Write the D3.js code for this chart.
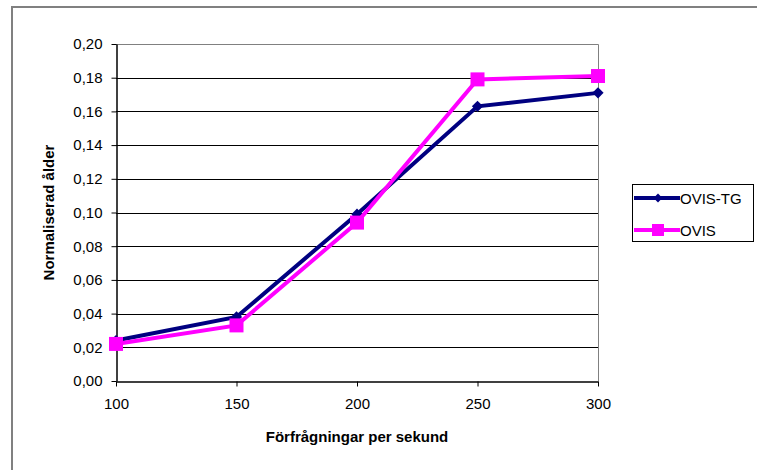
<!DOCTYPE html>
<html>
<head>
<meta charset="utf-8">
<script src="https://cdn.jsdelivr.net/npm/d3@7"></script>
<style>
  body { margin: 0; background: #fff; }
  svg { display: block; font-family: "Liberation Sans", Arial, sans-serif; }
  .axis path, .axis line { stroke: #000; }
  .axis text { font-size: 15px; fill: #000; }
</style>
</head>
<body>
<div id="chart"></div>
<script>
// data
var requests = [100, 150, 200, 250, 300];
var ovisTG = [0.024, 0.038, 0.099, 0.163, 0.171];
var ovis = [0.022, 0.033, 0.094, 0.179, 0.181];
var yTicks = [0, 0.02, 0.04, 0.06, 0.08, 0.10, 0.12, 0.14, 0.16, 0.18, 0.20];
var seriesNames = ["OVIS-TG", "OVIS"];

var width = 757, height = 470;
var svg = d3.select("#chart").append("svg")
    .attr("width", width)
    .attr("height", height);

// outer chart frame (only left and top edges are in view)
svg.append("path")
    .attr("d", "M12,470 V7 H757")
    .attr("fill", "none")
    .attr("stroke", "#808080")
    .attr("stroke-width", 2);

var plot = {left: 116, right: 598, top: 44, bottom: 381};

var x = d3.scaleLinear().domain([100, 300]).range([plot.left, plot.right]);
var y = d3.scaleLinear().domain([0, 0.2]).range([plot.bottom, plot.top]);

var sv = d3.formatLocale({decimal: ",", thousands: " ", grouping: [3], currency: ["", " kr"]});
var fmt = sv.format(".2f");

// grid lines
svg.append("g").selectAll("line")
    .data(yTicks.slice(1, -1))
    .enter().append("line")
      .attr("x1", plot.left).attr("x2", plot.right)
      .attr("y1", function(d) { return Math.round(y(d)) + 0.5; })
      .attr("y2", function(d) { return Math.round(y(d)) + 0.5; })
      .attr("stroke", "#000");

// plot border top/right
svg.append("path")
    .attr("d", "M" + plot.left + "," + (plot.top + 0.5) + " H" + (plot.right + 0.5) + " V" + plot.bottom)
    .attr("fill", "none")
    .attr("stroke", "#808080");

// y axis
svg.append("g")
    .attr("class", "axis")
    .attr("transform", "translate(" + (plot.left + 0.5) + ",0)")
    .call(d3.axisLeft(y).tickValues(yTicks).tickFormat(fmt).tickSize(5).tickPadding(9).tickSizeOuter(0));

// x axis
svg.append("g")
    .attr("class", "axis")
    .attr("transform", "translate(0," + (plot.bottom + 0.5) + ")")
    .call(d3.axisBottom(x).tickValues(requests).tickFormat(d3.format("d")).tickSize(5).tickPadding(12).tickSizeOuter(0));

svg.selectAll(".axis .domain").attr("stroke-width", 1.5);

// axis titles
svg.append("text")
    .attr("x", (plot.left + plot.right) / 2)
    .attr("y", 442)
    .attr("text-anchor", "middle")
    .style("font-size", "15px")
    .style("font-weight", "bold")
    .text("Förfrågningar per sekund");

svg.append("text")
    .attr("transform", "translate(54," + (plot.top + plot.bottom) / 2 + ") rotate(-90)")
    .attr("text-anchor", "middle")
    .style("font-size", "15px")
    .style("font-weight", "bold")
    .text("Normaliserad ålder");

var line = d3.line()
    .x(function(d, i) { return x(requests[i]); })
    .y(function(d) { return y(d); });

// OVIS-TG (navy, diamonds)
svg.append("path")
    .datum(ovisTG)
    .attr("d", line)
    .attr("fill", "none")
    .attr("stroke", "#000080")
    .attr("stroke-width", 4);

var diamond = d3.symbol().type(d3.symbolDiamond2).size(80);
svg.append("g").selectAll("path")
    .data(ovisTG)
    .enter().append("path")
      .attr("d", diamond)
      .attr("transform", function(d, i) { return "translate(" + x(requests[i]) + "," + y(d) + ")"; })
      .attr("fill", "#000080");

// OVIS (magenta, squares)
svg.append("path")
    .datum(ovis)
    .attr("d", line)
    .attr("fill", "none")
    .attr("stroke", "#ff00ff")
    .attr("stroke-width", 4);

svg.append("g").selectAll("rect")
    .data(ovis)
    .enter().append("rect")
      .attr("x", function(d, i) { return x(requests[i]) - 7; })
      .attr("y", function(d) { return y(d) - 7; })
      .attr("width", 14)
      .attr("height", 14)
      .attr("fill", "#ff00ff");

// legend
var legend = svg.append("g").attr("transform", "translate(632,184)");
legend.append("rect")
    .attr("x", 0.5).attr("y", 0.5)
    .attr("width", 121).attr("height", 57)
    .attr("fill", "#fff")
    .attr("stroke", "#000");

var colors = ["#000080", "#ff00ff"];
seriesNames.forEach(function(name, i) {
  var ly = 14 + i * 32;
  var row = legend.append("g").attr("transform", "translate(0," + ly + ")");
  row.append("line")
      .attr("x1", 2).attr("x2", 48)
      .attr("y1", 0).attr("y2", 0)
      .attr("stroke", colors[i])
      .attr("stroke-width", 4);
  if (i === 0) {
    row.append("path")
        .attr("d", d3.symbol().type(d3.symbolDiamond2).size(50))
        .attr("transform", "translate(26,0)")
        .attr("fill", colors[i]);
  } else {
    row.append("rect")
        .attr("x", 20).attr("y", -6)
        .attr("width", 12).attr("height", 12)
        .attr("fill", colors[i]);
  }
  row.append("text")
      .attr("x", 48)
      .attr("y", 5.5)
      .style("font-size", "15px")
      .text(name);
});
</script>
</body>
</html>
